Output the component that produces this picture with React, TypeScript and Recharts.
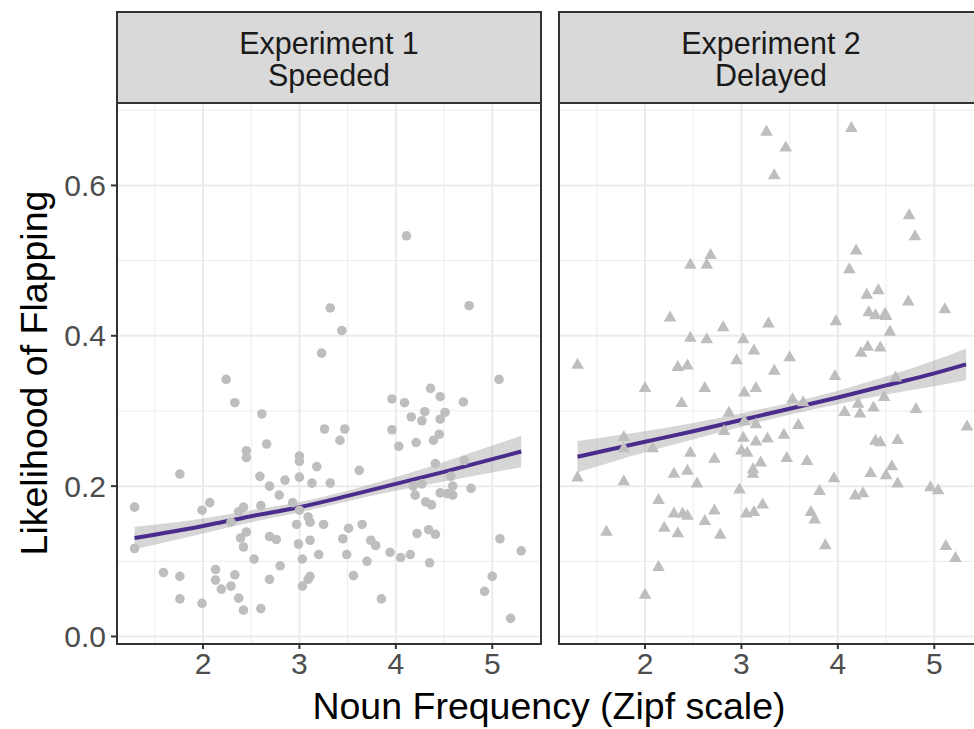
import React from 'react';
import { ComposedChart, Scatter, Line, Area, XAxis, YAxis, CartesianGrid } from 'recharts';

const FONT = '"Liberation Sans", Arial, Helvetica, sans-serif';

const xDomain: [number, number] = [1.108, 5.495];
const yDomain: [number, number] = [-0.0087, 0.7097];
const xTicks = [2, 3, 4, 5];
const yTicks = [0, 0.2, 0.4, 0.6];
const xMinor = [1.5, 2.5, 3.5, 4.5, 5.5];
const yMinor = [0.1, 0.3, 0.5, 0.7];

const panelTitles = [
  ['Experiment 1', 'Speeded'],
  ['Experiment 2', 'Delayed'],
];
const xTitle = 'Noun Frequency (Zipf scale)';
const yTitle = 'Likelihood of Flapping';

// Experiment 1 (Speeded): [zipf, likelihood]
const exp1Points: [number, number][] = [
  [1.29, 0.172], [1.29, 0.117], [1.59, 0.085], [1.76, 0.216], [1.76, 0.08], [1.76, 0.05],
  [1.99, 0.168], [1.99, 0.044], [2.07, 0.178], [2.13, 0.089], [2.13, 0.075], [2.19, 0.063],
  [2.24, 0.342], [2.29, 0.152], [2.29, 0.067], [2.33, 0.311], [2.33, 0.082], [2.37, 0.166],
  [2.37, 0.051], [2.39, 0.131], [2.42, 0.172], [2.42, 0.119], [2.42, 0.035], [2.45, 0.247],
  [2.45, 0.238], [2.45, 0.139], [2.53, 0.103], [2.59, 0.213], [2.6, 0.174], [2.6, 0.037],
  [2.61, 0.296], [2.66, 0.256], [2.69, 0.2], [2.69, 0.133], [2.69, 0.076], [2.76, 0.129],
  [2.79, 0.188], [2.8, 0.094], [2.85, 0.208], [2.93, 0.178], [2.97, 0.149], [2.99, 0.123],
  [3.0, 0.24], [3.0, 0.233], [3.0, 0.212], [3.0, 0.168], [3.03, 0.103], [3.03, 0.067],
  [3.09, 0.159], [3.09, 0.076], [3.11, 0.152], [3.11, 0.128], [3.11, 0.08], [3.13, 0.204],
  [3.18, 0.226], [3.2, 0.109], [3.23, 0.377], [3.25, 0.149], [3.26, 0.276], [3.32, 0.437],
  [3.32, 0.204], [3.42, 0.261], [3.44, 0.407], [3.45, 0.13], [3.47, 0.276], [3.49, 0.109],
  [3.51, 0.144], [3.56, 0.081], [3.62, 0.221], [3.65, 0.149], [3.7, 0.1], [3.74, 0.128],
  [3.79, 0.121], [3.85, 0.05], [3.94, 0.112], [3.96, 0.316], [3.96, 0.275], [4.03, 0.253],
  [4.05, 0.105], [4.09, 0.311], [4.11, 0.533], [4.15, 0.109], [4.16, 0.292], [4.18, 0.2],
  [4.2, 0.188], [4.21, 0.258], [4.22, 0.137], [4.27, 0.287], [4.27, 0.203], [4.3, 0.299],
  [4.31, 0.179], [4.34, 0.142], [4.35, 0.098], [4.36, 0.33], [4.37, 0.175], [4.39, 0.261],
  [4.41, 0.23], [4.41, 0.136], [4.45, 0.269], [4.46, 0.319], [4.46, 0.289], [4.46, 0.191],
  [4.51, 0.298], [4.53, 0.19], [4.57, 0.213], [4.59, 0.2], [4.59, 0.188], [4.7, 0.312],
  [4.71, 0.234], [4.76, 0.44], [4.78, 0.197], [4.92, 0.06], [5.0, 0.08], [5.07, 0.342],
  [5.08, 0.13], [5.19, 0.024], [5.3, 0.114],
];

// Experiment 2 (Delayed): [zipf, likelihood]
const exp2Points: [number, number][] = [
  [1.3, 0.362], [1.3, 0.212], [1.6, 0.14], [1.78, 0.266], [1.78, 0.251], [1.78, 0.207],
  [2.0, 0.331], [2.0, 0.056], [2.08, 0.251], [2.14, 0.182], [2.14, 0.093], [2.2, 0.145],
  [2.26, 0.425], [2.3, 0.217], [2.3, 0.164], [2.34, 0.359], [2.34, 0.138], [2.38, 0.311],
  [2.39, 0.164], [2.44, 0.361], [2.44, 0.221], [2.44, 0.161], [2.47, 0.495], [2.47, 0.398],
  [2.47, 0.245], [2.54, 0.204], [2.62, 0.331], [2.62, 0.154], [2.64, 0.495], [2.64, 0.396],
  [2.68, 0.508], [2.72, 0.237], [2.72, 0.168], [2.78, 0.136], [2.81, 0.412], [2.82, 0.274],
  [2.87, 0.298], [2.95, 0.368], [2.98, 0.196], [3.0, 0.248], [3.02, 0.396], [3.02, 0.265],
  [3.03, 0.325], [3.03, 0.287], [3.05, 0.164], [3.06, 0.245], [3.12, 0.223], [3.12, 0.217],
  [3.13, 0.381], [3.13, 0.166], [3.15, 0.331], [3.15, 0.283], [3.15, 0.26], [3.2, 0.232],
  [3.22, 0.176], [3.26, 0.672], [3.27, 0.264], [3.28, 0.417], [3.34, 0.614], [3.34, 0.354],
  [3.44, 0.269], [3.46, 0.651], [3.47, 0.238], [3.5, 0.372], [3.53, 0.316], [3.59, 0.282],
  [3.64, 0.312], [3.68, 0.234], [3.72, 0.166], [3.76, 0.156], [3.81, 0.194], [3.87, 0.122],
  [3.96, 0.211], [3.97, 0.347], [3.98, 0.42], [4.07, 0.299], [4.12, 0.489], [4.14, 0.677],
  [4.18, 0.188], [4.19, 0.514], [4.21, 0.31], [4.23, 0.297], [4.24, 0.378], [4.26, 0.191],
  [4.3, 0.455], [4.31, 0.386], [4.32, 0.432], [4.34, 0.218], [4.37, 0.305], [4.39, 0.428],
  [4.39, 0.261], [4.42, 0.461], [4.44, 0.385], [4.44, 0.259], [4.48, 0.319], [4.49, 0.43],
  [4.5, 0.427], [4.5, 0.215], [4.54, 0.406], [4.56, 0.227], [4.6, 0.345], [4.62, 0.262],
  [4.62, 0.204], [4.73, 0.446], [4.74, 0.561], [4.8, 0.533], [4.81, 0.303], [4.96, 0.199],
  [5.04, 0.195], [5.11, 0.436], [5.12, 0.121], [5.22, 0.105], [5.34, 0.28],
];

// Fitted curves with confidence bands
const fit1X = [1.29, 2, 2.5, 3, 3.5, 4, 4.5, 5, 5.3];
const fit1Y = [0.131, 0.147, 0.16, 0.172, 0.187, 0.203, 0.219, 0.236, 0.246];
const fit1Lo = [0.116, 0.137, 0.152, 0.165, 0.18, 0.194, 0.206, 0.218, 0.225];
const fit1Hi = [0.146, 0.157, 0.168, 0.179, 0.194, 0.212, 0.232, 0.254, 0.267];

const fit2X = [1.3, 2, 2.5, 3, 3.5, 4, 4.5, 5, 5.33];
const fit2Y = [0.239, 0.259, 0.273, 0.288, 0.303, 0.318, 0.334, 0.35, 0.362];
const fit2Lo = [0.218, 0.245, 0.262, 0.279, 0.295, 0.309, 0.322, 0.333, 0.341];
const fit2Hi = [0.26, 0.273, 0.284, 0.297, 0.311, 0.327, 0.346, 0.367, 0.383];

const POINT = '#BEBEBE';
const LINE = '#4B2C8C';

const CircleShape = (p: any) => <circle cx={p.cx} cy={p.cy} r={4.8} fill={POINT} />;
const TriangleShape = (p: any) => (
  <polygon
    points={`${p.cx},${p.cy - 6.6} ${p.cx - 6.3},${p.cy + 4.4} ${p.cx + 6.3},${p.cy + 4.4}`}
    fill={POINT}
  />
);

type PanelProps = {
  points: [number, number][];
  fx: number[];
  fy: number[];
  lo: number[];
  hi: number[];
  shape: any;
  showY: boolean;
  width: number;
  margin: { top: number; right: number; bottom: number; left: number };
};

const tickStyle = { fontSize: 30, fill: '#4D4D4D', fontFamily: FONT };

function Panel({ points, fx, fy, lo, hi, shape, showY, width, margin }: PanelProps) {
  const scatterData = points.map(([x, y]) => ({ x, y }));
  const lineData = fx.map((x, i) => ({ x, fit: fy[i] }));
  const bandData = fx.map((x, i) => ({ x, band: [lo[i], hi[i]] }));
  return (
    <ComposedChart width={width} height={605} margin={margin}>
      <CartesianGrid
        stroke="#EBEBEB"
        strokeWidth={1}
        horizontalValues={yMinor}
        verticalValues={xMinor}
      />
      <CartesianGrid stroke="#EBEBEB" strokeWidth={2} horizontalValues={yTicks} verticalValues={xTicks} />
      <XAxis
        type="number"
        dataKey="x"
        domain={xDomain}
        ticks={xTicks}
        allowDataOverflow
        height={57}
        tickSize={6}
        tickMargin={4}
        axisLine={false}
        tickLine={{ stroke: '#333333', strokeWidth: 2 }}
        tick={tickStyle}
        interval={0}
      />
      <YAxis
        type="number"
        dataKey="y"
        domain={yDomain}
        ticks={yTicks}
        allowDataOverflow
        width={117}
        hide={!showY}
        tickSize={6}
        tickMargin={5}
        axisLine={false}
        tickLine={{ stroke: '#333333', strokeWidth: 2 }}
        tick={tickStyle}
        tickFormatter={(v: number) => v.toFixed(1)}
        interval={0}
      />
      <Scatter data={scatterData} dataKey="y" shape={shape} isAnimationActive={false} />
      <Area
        data={bandData}
        dataKey="band"
        type="monotone"
        stroke="none"
        fill="#999999"
        fillOpacity={0.4}
        isAnimationActive={false}
        dot={false}
        activeDot={false}
      />
      <Line
        data={lineData}
        dataKey="fit"
        type="monotone"
        stroke={LINE}
        strokeWidth={4}
        dot={false}
        activeDot={false}
        isAnimationActive={false}
      />
    </ComposedChart>
  );
}

function Strip({ left, lines }: { left: number; lines: string[] }) {
  return (
    <div
      style={{
        position: 'absolute',
        left,
        top: 11,
        width: 426,
        height: 93,
        boxSizing: 'border-box',
        border: '2px solid #333333',
        background: '#D9D9D9',
        color: '#1A1A1A',
        fontSize: 30.5,
        lineHeight: '32px',
        textAlign: 'center',
        paddingTop: 14,
        fontFamily: FONT,
      }}
    >
      <div>{lines[0]}</div>
      <div>{lines[1]}</div>
    </div>
  );
}

function Border({ left }: { left: number }) {
  return (
    <div
      style={{
        position: 'absolute',
        left,
        top: 102,
        width: 426,
        height: 543,
        boxSizing: 'border-box',
        border: '2px solid #333333',
        pointerEvents: 'none',
      }}
    />
  );
}

export default function App() {
  return (
    <div
      style={{
        position: 'absolute',
        left: 0,
        top: 0,
        width: 974,
        height: 729,
        overflow: 'hidden',
        background: '#FFFFFF',
        fontFamily: FONT,
      }}
    >
      <div style={{ position: 'absolute', left: 0, top: 95 }}>
        <Panel
          points={exp1Points}
          fx={fit1X}
          fy={fit1Y}
          lo={fit1Lo}
          hi={fit1Hi}
          shape={CircleShape}
          showY={true}
          width={550}
          margin={{ top: 8, right: 10, bottom: 0, left: 0 }}
        />
      </div>
      <div style={{ position: 'absolute', left: 549, top: 95 }}>
        <Panel
          points={exp2Points}
          fx={fit2X}
          fy={fit2Y}
          lo={fit2Lo}
          hi={fit2Hi}
          shape={TriangleShape}
          showY={false}
          width={450}
          margin={{ top: 8, right: 17, bottom: 0, left: 10 }}
        />
      </div>
      <Border left={116} />
      <Border left={558} />
      <Strip left={116} lines={panelTitles[0]} />
      <Strip left={558} lines={panelTitles[1]} />
      <div
        style={{
          position: 'absolute',
          left: 116,
          width: 866,
          top: 686,
          textAlign: 'center',
          fontSize: 37.5,
          lineHeight: '40px',
          color: '#000000',
        }}
      >
        {xTitle}
      </div>
      <div
        style={{
          position: 'absolute',
          left: 34 - 300,
          top: 373 - 20,
          width: 600,
          textAlign: 'center',
          fontSize: 37.5,
          lineHeight: '40px',
          color: '#000000',
          transform: 'rotate(-90deg)',
        }}
      >
        {yTitle}
      </div>
    </div>
  );
}
